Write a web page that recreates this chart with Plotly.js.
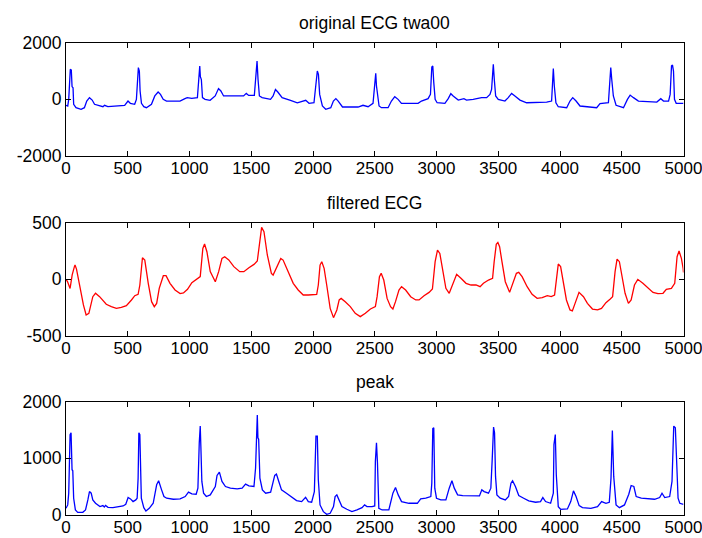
<!DOCTYPE html>
<html>
<head>
<meta charset="utf-8">
<script src="https://cdn.plot.ly/plotly-3.0.1.min.js"></script>
<style>
  html, body { margin: 0; padding: 0; background: #ffffff; }
  #chart { width: 702px; height: 538px; }
</style>
</head>
<body>
<div id="chart"></div>
<script>
// Raw ECG record twa00 (sample index, amplitude)
const origX = [0,14,22,30,35,43,49,57,62,81,122,149,168,190,212,231,271,299,312,339,475,502,521,556,570,581,586,594,600,611,630,651,692,719,746,765,787,814,923,963,982,1018,1064,1075,1083,1088,1096,1105,1126,1167,1208,1235,1254,1276,1438,1460,1479,1525,1536,1547,1555,1566,1588,1656,1677,1696,1715,1750,1818,1873,1941,1968,2008,2027,2035,2044,2054,2076,2103,2144,2165,2185,2204,2239,2365,2405,2446,2486,2497,2508,2514,2535,2554,2608,2635,2662,2689,2716,2851,2878,2932,2951,2962,2970,2978,2989,3005,3068,3095,3116,3135,3176,3222,3243,3297,3365,3406,3433,3446,3454,3460,3468,3479,3500,3554,3581,3608,3635,3676,3730,3838,3892,3932,3941,3946,3954,3967,3986,4054,4081,4103,4130,4162,4297,4324,4392,4406,4411,4419,4432,4454,4514,4546,4568,4595,4635,4784,4816,4838,4879,4892,4903,4911,4919,4927,4941,5000];
const origY = [-210,-235,0,1035,1060,1035,450,410,-175,-295,-350,-295,-60,60,-25,-175,-210,-260,-210,-260,-210,-60,-140,-175,0,1060,1120,1000,295,-140,-260,-295,-175,120,260,175,0,-60,-60,25,60,35,60,700,1180,800,700,60,0,-35,120,380,295,120,120,210,140,140,700,1350,700,120,60,0,120,350,260,60,-35,-120,-35,-140,-120,590,1000,880,175,-235,-350,-295,-60,25,-60,-270,-270,-210,-260,-140,470,920,470,-235,-295,-295,-60,95,0,-140,-140,-60,25,175,1140,1180,590,0,-120,-140,25,200,120,-25,25,-25,0,60,60,175,350,1180,1240,700,120,0,-60,60,210,120,-25,-120,-120,-95,-60,880,1085,470,-120,-260,-295,-60,60,-60,-235,-295,-150,-120,820,1120,700,120,-210,-295,0,150,60,-60,-95,25,-60,-60,175,1180,1210,1000,0,-140,-140];

// Band-pass filtered signal
const filtX = [0,12,33,50,68,73,85,109,141,163,185,217,239,272,326,367,408,448,489,530,557,584,598,619,638,666,693,715,734,755,788,810,842,883,924,951,984,1019,1046,1073,1087,1108,1122,1141,1168,1209,1236,1263,1285,1318,1359,1407,1440,1481,1522,1549,1570,1584,1603,1630,1663,1677,1739,1758,1799,1840,1880,1921,1962,2030,2043,2057,2071,2090,2111,2139,2166,2193,2212,2228,2261,2302,2342,2383,2424,2465,2505,2519,2538,2552,2573,2600,2628,2647,2668,2696,2717,2750,2791,2832,2859,2899,2940,2967,2989,3008,3027,3049,3076,3103,3130,3163,3198,3239,3280,3320,3353,3380,3421,3454,3467,3484,3497,3511,3530,3557,3592,3620,3647,3666,3693,3734,3774,3815,3856,3897,3929,3956,3973,3986,4005,4027,4052,4081,4100,4122,4154,4190,4222,4263,4304,4336,4372,4407,4426,4446,4462,4481,4503,4527,4554,4576,4603,4630,4671,4712,4753,4793,4834,4861,4902,4929,4948,4964,4983,4997,5000];
const filtY = [0,-20,-80,40,112,126,90,-50,-226,-315,-300,-153,-123,-153,-220,-241,-256,-247,-232,-182,-144,-132,-50,191,170,-35,-197,-241,-212,-79,32,32,-35,-94,-126,-120,-88,-29,-9,9,24,273,312,244,68,-21,68,185,200,171,112,68,68,103,132,162,376,459,420,215,53,38,185,170,68,-35,-94,-138,-138,-132,-50,126,156,97,-50,-256,-338,-270,-182,-168,-197,-241,-300,-329,-300,-262,-241,-153,24,53,-6,-168,-241,-262,-197,-94,-65,-94,-153,-182,-182,-144,-115,-85,156,259,229,97,-79,-123,-50,44,9,-35,-50,-50,-65,-35,-6,9,156,309,326,288,156,-21,-115,-21,53,62,24,-65,-132,-168,-162,-144,-153,-138,9,135,112,-21,-182,-270,-279,-212,-115,-153,-212,-262,-270,-256,-206,-173,-153,68,179,156,24,-123,-212,-182,-50,0,-35,-79,-115,-126,-123,-88,-79,-35,200,250,185,97,60];

// Peak-detection signal
const peakX = [0,14,22,28,33,41,45,49,55,62,76,95,136,158,177,190,204,217,239,258,275,299,310,320,340,380,421,462,484,503,522,543,565,576,584,590,598,603,610,630,647,674,706,734,750,774,793,815,869,924,965,992,1019,1054,1068,1079,1087,1092,1100,1114,1136,1168,1209,1223,1242,1263,1291,1331,1386,1426,1454,1481,1522,1535,1549,1554,1560,1570,1590,1617,1657,1690,1704,1723,1745,1785,1826,1867,1908,1940,1962,1989,2011,2024,2035,2043,2057,2084,2111,2139,2166,2179,2193,2212,2234,2274,2315,2356,2397,2418,2437,2478,2500,2505,2514,2522,2533,2560,2614,2647,2668,2690,2717,2777,2845,2872,2913,2954,2962,2970,2978,2986,3000,3035,3076,3103,3125,3144,3171,3212,3266,3307,3348,3367,3386,3421,3440,3451,3462,3470,3478,3489,3516,3557,3584,3603,3616,3639,3666,3706,3747,3802,3842,3861,3883,3924,3946,3951,3962,3970,3986,4005,4060,4087,4109,4130,4155,4182,4250,4304,4337,4372,4399,4413,4424,4435,4454,4481,4522,4557,4576,4598,4617,4658,4712,4766,4807,4826,4848,4888,4907,4921,4934,4945,4956,4970,5000];
const peakY = [118,178,385,1000,1420,1450,900,800,780,296,89,47,47,89,266,414,385,266,207,178,150,166,140,170,136,130,148,160,189,308,284,237,266,296,651,1450,1420,680,296,130,71,118,207,533,604,444,326,296,278,284,326,403,373,367,474,1273,1569,1214,592,385,326,355,503,699,758,592,503,474,462,474,545,515,503,829,1764,1362,1340,651,444,385,403,699,722,592,444,385,326,255,237,314,237,225,414,1391,1391,622,178,59,12,30,148,326,355,266,148,101,59,89,130,178,148,148,160,947,1273,918,118,89,89,385,485,355,237,207,207,284,296,326,562,1527,1539,474,296,266,266,474,604,474,355,343,343,337,337,444,414,385,474,977,1551,1450,681,355,296,266,326,562,604,503,343,296,249,225,237,308,237,207,385,1243,1421,710,148,101,107,237,426,326,166,130,118,148,237,207,225,651,1492,681,178,130,178,367,521,503,326,296,284,278,308,385,308,326,592,1569,1539,770,296,207,189];

const panelTitles = ['original ECG twa00', 'filtered ECG', 'peak'];
const xTickVals = [0,500,1000,1500,2000,2500,3000,3500,4000,4500,5000];
const yTicksOrig = [-2000, 0, 2000];
const yTicksFilt = [-500, 0, 500];
const yTicksPeak = [0, 1000, 2000];

const W = 702, H = 538;
const FONT = { family: 'Liberation Sans, Arial, Helvetica, sans-serif', size: 17.5, color: '#000000' };
const XFONT = { family: 'Liberation Sans, Arial, Helvetica, sans-serif', size: 17, color: '#000000' };

// Plot boxes in pixels: [left, right] and [top, bottom] per panel
const boxLeft = 66, boxRight = 683.5;
const boxTops = [42.7, 222.7, 401.7];
const boxBottoms = [156, 336, 515];

const xDomain = [boxLeft / W, boxRight / W];
const yDomain = i => [1 - boxBottoms[i] / H, 1 - boxTops[i] / H];

function xAxis(i) {
  return {
    domain: xDomain, anchor: i === 0 ? 'y' : 'y' + (i + 1),
    range: [0, 5000], tickvals: xTickVals, ticktext: xTickVals.map(String),
    ticks: 'inside', ticklen: 5, tickwidth: 1, tickcolor: '#000',
    showline: true, linecolor: '#000', linewidth: 1, mirror: 'ticks',
    showgrid: false, zeroline: false, tickfont: XFONT, fixedrange: true,
    ticklabeloverflow: 'allow', ticklabelstandoff: -3
  };
}
function yAxis(i, range, ticks) {
  return {
    domain: yDomain(i), anchor: i === 0 ? 'x' : 'x' + (i + 1),
    range: range, tickvals: ticks, ticktext: ticks.map(String),
    ticks: 'inside', ticklen: 5, tickwidth: 1, tickcolor: '#000',
    showline: true, linecolor: '#000', linewidth: 1, mirror: 'ticks',
    showgrid: false, zeroline: false, tickfont: FONT, fixedrange: true,
    ticklabeloverflow: 'allow'
  };
}

const traces = [
  { x: origX, y: origY, xaxis: 'x', yaxis: 'y', type: 'scatter', mode: 'lines',
    line: { color: 'rgb(0,0,255)', width: 1.3 }, hoverinfo: 'skip' },
  { x: filtX, y: filtY, xaxis: 'x2', yaxis: 'y2', type: 'scatter', mode: 'lines',
    line: { color: 'rgb(255,0,0)', width: 1.3 }, hoverinfo: 'skip' },
  { x: peakX, y: peakY, xaxis: 'x3', yaxis: 'y3', type: 'scatter', mode: 'lines',
    line: { color: 'rgb(0,0,255)', width: 1.3 }, hoverinfo: 'skip' }
];

const annotations = panelTitles.map((t, i) => ({
  text: t, showarrow: false, xref: 'paper', yref: 'paper',
  x: (xDomain[0] + xDomain[1]) / 2, y: 1 - (boxTops[i] - 19.5) / H,
  xanchor: 'center', yanchor: 'middle', font: FONT
}));

const layout = {
  width: W, height: H,
  margin: { l: 0, r: 0, t: 0, b: 0, pad: 0 },
  paper_bgcolor: '#ffffff', plot_bgcolor: '#ffffff',
  showlegend: false,
  font: FONT,
  xaxis: xAxis(0), xaxis2: xAxis(1), xaxis3: xAxis(2),
  yaxis: yAxis(0, [-2000, 2000], yTicksOrig),
  yaxis2: yAxis(1, [-500, 500], yTicksFilt),
  yaxis3: yAxis(2, [0, 2000], yTicksPeak),
  annotations: annotations
};

Plotly.newPlot('chart', traces, layout, { staticPlot: true, displayModeBar: false });
</script>
</body>
</html>
